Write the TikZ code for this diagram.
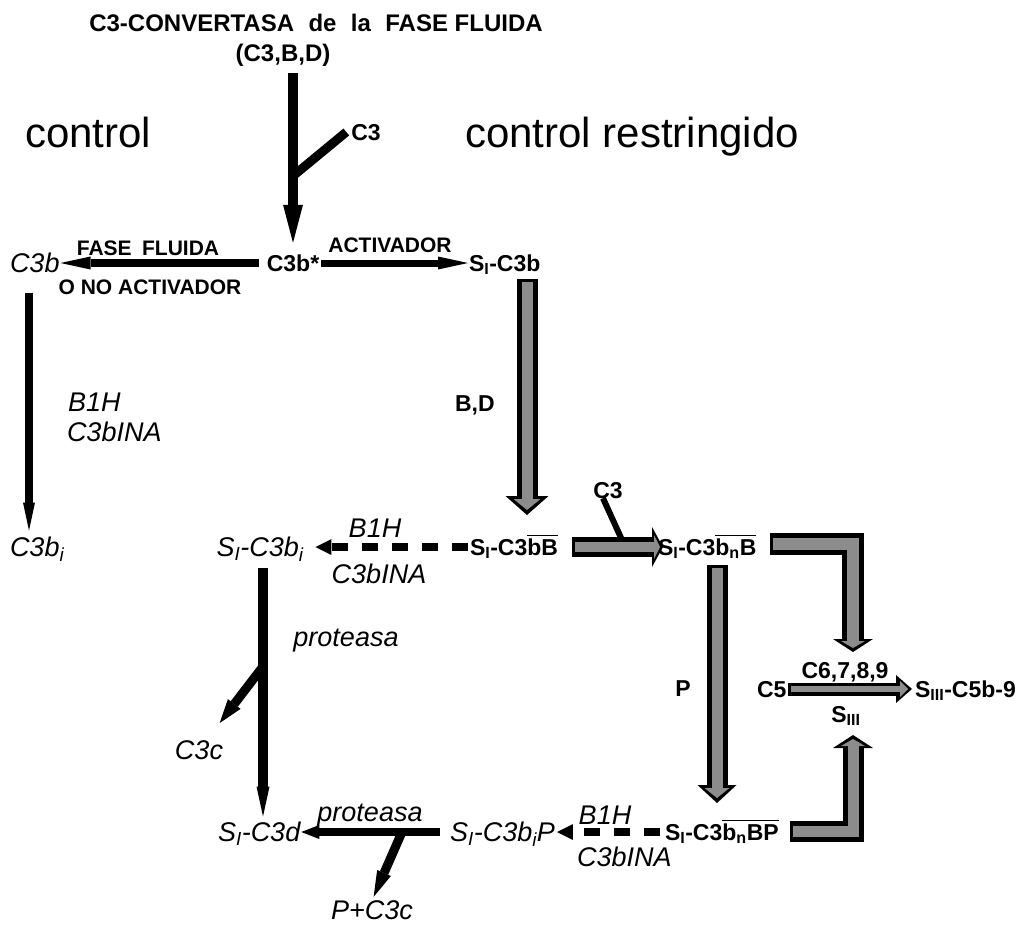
\documentclass[tikz,border=0pt]{standalone}
\usepackage{fontspec}
\setmainfont{Liberation Sans}
\usetikzlibrary{arrows.meta,calc}
\newcommand\ovl[1]{\vbox{\hrule height 1.6pt\kern 2.2pt\hbox{#1}}}
\begin{document}
\begin{tikzpicture}[x=1pt,y=-1pt,
  lbl/.style={inner sep=0pt, outer sep=0pt},
  bl/.style={lbl, font=\fontsize{23}{26}\selectfont\bfseries, text height=16.5pt, text depth=0pt},
  blsm/.style={lbl, font=\fontsize{21}{24}\selectfont\bfseries, text height=15pt, text depth=0pt},
  it/.style={lbl, font=\fontsize{27}{30}\selectfont\itshape, text height=19pt, text depth=0pt},
  big/.style={lbl, font=\fontsize{42}{48}\selectfont, anchor=base west},
  fo/.style={draw=black, line join=miter},
  fi/.style={draw=black!45, line join=miter},
  dsh/.style={draw=black, line width=8pt, dash pattern=on 16pt off 14pt, -{Triangle[width=16pt,length=16pt,line width=0pt]}}
]
\fill[white] (0,0) rectangle (1025,926);
\useasboundingbox (0,0) rectangle (1025,926);

% ---------- texts ----------
\node[bl, font=\fontsize{24}{28}\selectfont\bfseries, text height=17pt] (T1) at (316,23) {C3-CONVERTASA\hspace{0.6em}de\hspace{0.6em}la\hspace{0.6em}FASE FLUIDA};
\node[bl, font=\fontsize{24}{28}\selectfont\bfseries, text height=17pt] (T2) at (283,53) {(C3,B,D)};
\node[bl] (C3top) at (366,132) {C3};
\node[big] (ctrl) at (25,147) {control};
\node[big] (ctrlr) at (465,147) {control restringido};

\node[it, anchor=west] (C3b) at (10,263) {C3b};
\node[bl] (C3bs) at (293,263) {C3b*};
\node[bl, anchor=west] (SIC3b) at (469,263) {S\textsubscript{I}-C3b};
\node[blsm] (FF) at (148,248) {FASE\hspace{0.5em}FLUIDA};
\node[blsm] (ONA) at (150,287) {O NO ACTIVADOR};
\node[blsm] (ACT) at (390,245) {ACTIVADOR};

\node[it, anchor=west] (B1Ha) at (68,402) {B1H};
\node[it, anchor=west] (C3bINAa) at (67,432) {C3bINA};
\node[bl, anchor=west] (BD) at (455,403) {B,D};

\node[it, anchor=west] (C3bi) at (10,547) {C3b\textsubscript{i}};
\node[it] (SIC3bi) at (260,547) {S\textsubscript{I}-C3b\textsubscript{i}};
\node[it] (B1Hb) at (375,528) {B1H};
\node[it] (C3bINAb) at (379,574) {C3bINA};
\node[bl, anchor=west] (SIC3bB) at (470,547) {S\textsubscript{I}-C3\ovl{bB}};
\node[bl] (C3mid) at (608,490) {C3};
\node[bl, anchor=west] (SIC3bnB) at (658,547) {S\textsubscript{I}-C3\ovl{b\textsubscript{n}B}};

\node[it] (prot1) at (346,637) {proteasa};
\node[it] (C3c) at (199,750) {C3c};
\node[bl] (P) at (683,688) {P};

\node[bl, anchor=west] (C5) at (757,689) {C5};
\node[bl] (C6) at (845,670) {C6,7,8,9};
\node[bl] (SIII) at (846,714) {S\textsubscript{III}};
\node[bl, anchor=west] (SIIIC5) at (915,689) {S\textsubscript{III}-C5b-9};

\node[it, anchor=west] (SIC3d) at (218,832) {S\textsubscript{I}-C3d};
\node[it] (prot2) at (370,812) {proteasa};
\node[it] (PC3c) at (372,910) {P+C3c};
\node[it, anchor=west] (SIC3biP) at (450,832) {S\textsubscript{I}-C3b\textsubscript{i}P};
\node[it] (B1Hc) at (605,815) {B1H};
\node[it, anchor=west] (C3bINAc) at (577,857) {C3bINA};
\node[bl, anchor=west] (SIC3bnBP) at (665,832) {S\textsubscript{I}-C3\ovl{b\textsubscript{n}BP}};

% ---------- coordinates ----------
\coordinate (br1) at (293,176);
\coordinate (lvx) at (29,0);
\coordinate (vx2) at ([xshift=3pt]SIC3bi.south);
\path (vx2) ++(0,110) coordinate (br2);
\path (SIC3biP.west) ++(-48,0) coordinate (br3);
\coordinate (c3in) at (622,540);
\coordinate (fa1s) at (527,279); \coordinate (fa1e) at (527,515);
\coordinate (fa2s) at (572,547); \coordinate (fa2e) at (663,547);
\coordinate (fa3s) at (770,544); \coordinate (fa3c) at (853,544); \coordinate (fa3e) at (853,652);
\coordinate (fa4s) at (717,565); \coordinate (fa4e) at (717,803);
\coordinate (fa5s) at (790,831); \coordinate (fa5c) at (853,831); \coordinate (fa5e) at (853,735);
\coordinate (fa6s) at (788,689); \coordinate (fa6e) at (912,689);

% ---------- fat gray arrows ----------
\draw[fo, line width=21pt, -{Triangle[width=43pt,length=19pt,line width=0pt]}] (fa1s) -- (fa1e);
\draw[fi, line width=11pt, shorten <=3pt, shorten >=5pt, -{Triangle[width=27pt,length=11pt,line width=0pt]}] (fa1s) -- (fa1e);
\draw[fo, line width=20pt, -{Triangle[width=40pt,length=11pt,line width=0pt]}] (fa2s) -- (fa2e);
\draw[fi, line width=10pt, shorten <=3pt, shorten >=3pt, -{Triangle[width=24pt,length=6pt,line width=0pt]}] (fa2s) -- (fa2e);
\draw[fo, line width=22pt, -{Triangle[width=40pt,length=13pt,line width=0pt]}] (fa3s) -- (fa3c) -- (fa3e);
\draw[fi, line width=12pt, shorten <=3pt, shorten >=4pt, -{Triangle[width=24pt,length=7pt,line width=0pt]}] (fa3s) -- (fa3c) -- (fa3e);
\draw[fo, line width=21pt, -{Triangle[width=39pt,length=18pt,line width=0pt]}] (fa4s) -- (fa4e);
\draw[fi, line width=11pt, shorten <=3pt, shorten >=5pt, -{Triangle[width=25pt,length=10pt,line width=0pt]}] (fa4s) -- (fa4e);
\draw[fo, line width=21pt, -{Triangle[width=40pt,length=13pt,line width=0pt]}] (fa5s) -- (fa5c) -- (fa5e);
\draw[fi, line width=11pt, shorten <=3pt, shorten >=4pt, -{Triangle[width=24pt,length=7pt,line width=0pt]}] (fa5s) -- (fa5c) -- (fa5e);
\draw[fo, line width=13pt, -{Triangle[width=28pt,length=16pt,line width=0pt]}] (fa6s) -- (fa6e);
\draw[fi, line width=6pt, shorten <=3pt, shorten >=4pt, -{Triangle[width=16pt,length=8pt,line width=0pt]}] (fa6s) -- (fa6e);

% ---------- black arrows ----------
\draw[line width=10pt, -{Triangle[width=20pt,length=38pt,line width=0pt]}, shorten <=11pt, shorten >=12pt] (T2.south -| C3bs.north) -- (C3bs.north);
\draw[line width=9pt] ([xshift=-5pt]C3top.west) -- (br1);
\draw[line width=8pt, -{Triangle[width=13pt,length=30pt,line width=0pt]}, shorten <=8pt, shorten >=1pt] (C3bs.west) -- (C3b.east);
\draw[line width=7pt, -{Triangle[width=13pt,length=30pt,line width=0pt]}, shorten <=2pt, shorten >=1pt] (C3bs.east) -- (SIC3b.west);
\draw[line width=8pt, -{Triangle[width=12pt,length=28pt,line width=0pt]}, shorten <=20pt, shorten >=7pt] (C3b.south -| lvx) -- (C3bi.north -| lvx);
\draw[line width=10pt, -{Triangle[width=13pt,length=30pt,line width=0pt]}, shorten <=11pt, shorten >=6pt] (vx2) -- (vx2 |- SIC3d.north);
\draw[line width=9pt, -{Triangle[width=16pt,length=24pt,line width=0pt]}, shorten >=22pt] (br2) -- (C3c);
\draw[line width=8pt, -{Triangle[width=14pt,length=18pt,line width=0pt]}, shorten <=10pt, shorten >=1pt] (SIC3biP.west) -- (SIC3d.east);
\draw[line width=9pt, -{Triangle[width=15pt,length=26pt,line width=0pt]}, shorten >=4pt] (br3) -- (PC3c.north);
\draw[line width=6pt] ([xshift=-5pt]C3mid.south) -- (c3in);

% ---------- dashed arrows ----------
\draw[dsh, shorten <=2pt, shorten >=12pt] (SIC3bB.west) -- (SIC3bi.east);
\draw[dsh, shorten <=5pt, shorten >=2pt] (SIC3bnBP.west) -- (SIC3biP.east);
\end{tikzpicture}
\end{document}
